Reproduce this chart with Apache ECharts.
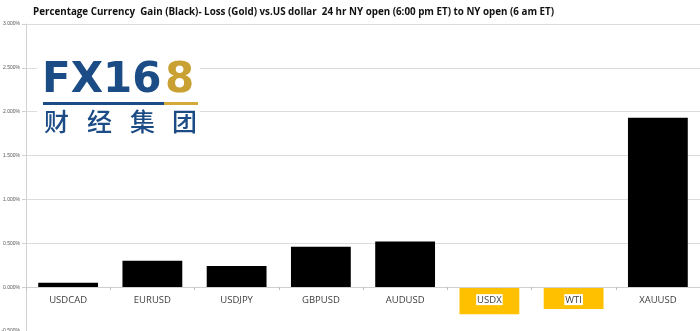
<!DOCTYPE html>
<html><head><meta charset="utf-8">
<script src="https://cdn.jsdelivr.net/npm/echarts@6/dist/echarts.min.js"></script>
<style>html,body{margin:0;padding:0;background:#fff}#c{width:700px;height:331px}</style>
</head><body><div id="c"></div>
<script>
const categories = ['USDCAD','EURUSD','USDJPY','GBPUSD','AUDUSD','USDX','WTI','XAUUSD'];
const values = [0.05, 0.30, 0.24, 0.46, 0.52, -0.31, -0.25, 1.93];
const titleText = 'Percentage Currency  Gain (Black)- Loss (Gold) vs.US dollar  24 hr NY open (6:00 pm ET) to NY open (6 am ET)';
const logoMain = 'FX16';
const logoGold = '8';
const logoCn = ['财','经','集','团'];

const BLUE = '#1b4c85';
const yMin = -0.5, yMax = 3;
const gridTop = 24, gridBottom = 0, H = 331;
const zeroOffset = (H - gridTop - gridBottom) * (0 - yMin) / (yMax - yMin);
const chart = echarts.init(document.getElementById('c'), null, {renderer:'canvas'});
const cnX = [44, 87, 130, 172];
chart.setOption({
  animation:false,
  title:{ text:titleText, left:33, top:7, padding:0,
    textStyle:{ fontFamily:'Open Sans', fontSize:9.8, fontWeight:'bold', color:'#111' } },
  grid:{ left:26, right:0, top:gridTop, bottom:gridBottom, containLabel:false, outerBoundsMode:'none' },
  xAxis:{ type:'category', data:categories, z:5, position:'bottom', offset:-zeroOffset,
    axisLine:{ onZero:false, lineStyle:{ color:'#d0d0d0', width:1 } },
    axisTick:{ show:true, length:3, lineStyle:{ color:'#bfbfbf' } },
    axisLabel:{ color:'#404040', fontFamily:'Open Sans', fontSize:9.5, margin:7,
      backgroundColor:'#fff', padding:[1,1,0,1] } },
  yAxis:{ type:'value', min:yMin, max:yMax, interval:0.5,
    axisLine:{ show:true, lineStyle:{ color:'#d0d0d0' } },
    axisTick:{ show:true, length:4, lineStyle:{ color:'#d0d0d0' } },
    splitLine:{ lineStyle:{ color:'#dcdcdc', width:1 } },
    axisLabel:{ fontSize:5, color:'#555', fontFamily:'Liberation Sans', margin:6,
      formatter:v => v.toFixed(3) + '%' } },
  series:[{ type:'bar', data:values.map(v => ({ value:v,
      itemStyle:{ color: v >= 0 ? '#000000' : '#FFC000' } })),
    barWidth:'71%' }],
  graphic:[
    { type:'rect', left:37, top:58, z:10, shape:{ width:163, height:82 }, style:{ fill:'#fff' } },
    { type:'text', left:42, top:60, z:11, style:{ text:logoMain, fill:BLUE,
      font:'bold 42px "DejaVu Sans"' } },
    { type:'text', left:165, top:60, z:11, style:{ text:logoGold, fill:'#c9a032',
      font:'bold 42px "DejaVu Sans"' } },
    { type:'rect', left:43, top:102, z:11, shape:{ width:121, height:3 }, style:{ fill:BLUE } },
    { type:'rect', left:164, top:102, z:11, shape:{ width:34, height:3 }, style:{ fill:'#d4aa3a' } },
  ].concat(logoCn.map((ch, i) => ({ type:'text', left:cnX[i], top:109, z:11,
      style:{ text:ch, fill:BLUE, font:'500 25px "Noto Sans CJK SC"' } })))
});
</script></body></html>
